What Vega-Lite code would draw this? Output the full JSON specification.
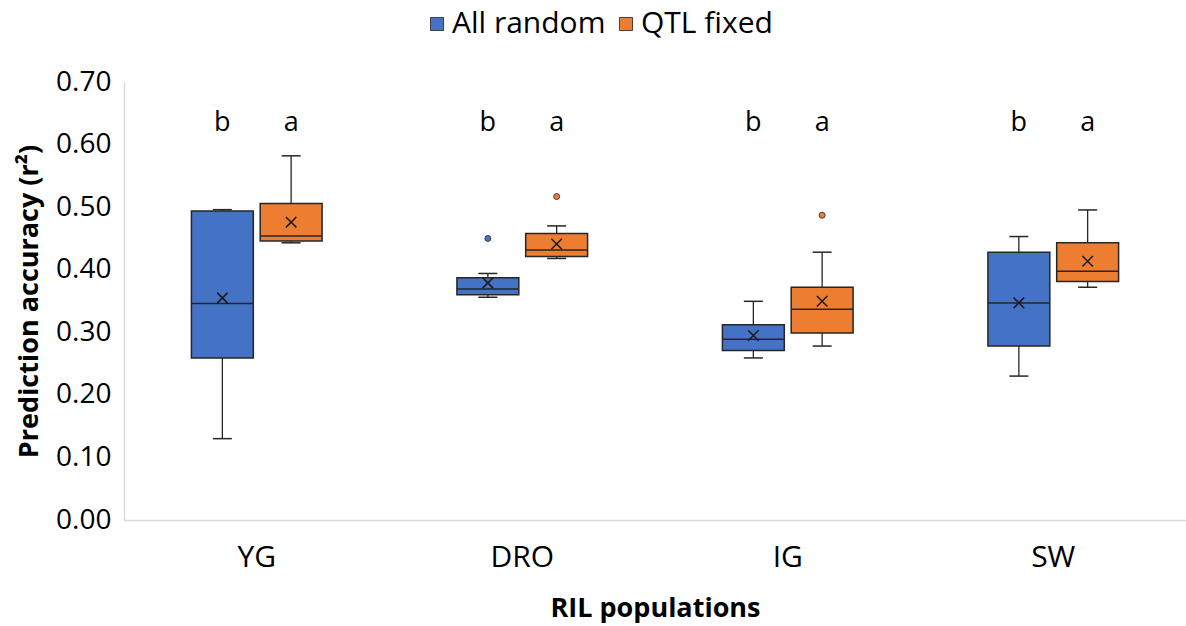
{
  "$schema": "https://vega.github.io/schema/vega-lite/v6.json",
  "autosize": {"type": "none"},
  "padding": {"left": 124, "top": 82, "right": 0, "bottom": 106},
  "width": 1062,
  "height": 438,
  "background": "white",
  "config": {
    "font": "Open Sans",
    "view": {"stroke": null}
  },
  "data": {
    "values": [
      {"pop": "YG", "series": "All random", "lo": 0.130, "q1": 0.259, "med": 0.346, "q3": 0.494, "hi": 0.496, "mean": 0.355, "outlier": null, "letter": "b"},
      {"pop": "YG", "series": "QTL fixed", "lo": 0.443, "q1": 0.446, "med": 0.454, "q3": 0.506, "hi": 0.582, "mean": 0.476, "outlier": null, "letter": "a"},
      {"pop": "DRO", "series": "All random", "lo": 0.356, "q1": 0.360, "med": 0.369, "q3": 0.387, "hi": 0.394, "mean": 0.379, "outlier": 0.450, "letter": "b"},
      {"pop": "DRO", "series": "QTL fixed", "lo": 0.418, "q1": 0.421, "med": 0.4315, "q3": 0.458, "hi": 0.470, "mean": 0.441, "outlier": 0.517, "letter": "a"},
      {"pop": "IG", "series": "All random", "lo": 0.259, "q1": 0.271, "med": 0.289, "q3": 0.312, "hi": 0.3495, "mean": 0.295, "outlier": null, "letter": "b"},
      {"pop": "IG", "series": "QTL fixed", "lo": 0.278, "q1": 0.299, "med": 0.337, "q3": 0.372, "hi": 0.428, "mean": 0.3495, "outlier": 0.487, "letter": "a"},
      {"pop": "SW", "series": "All random", "lo": 0.230, "q1": 0.278, "med": 0.347, "q3": 0.428, "hi": 0.453, "mean": 0.347, "outlier": null, "letter": "b"},
      {"pop": "SW", "series": "QTL fixed", "lo": 0.372, "q1": 0.381, "med": 0.3975, "q3": 0.443, "hi": 0.4955, "mean": 0.4135, "outlier": null, "letter": "a"}
    ]
  },
  "encoding": {
    "x": {
      "field": "pop",
      "type": "nominal",
      "sort": ["YG", "DRO", "IG", "SW"],
      "scale": {"paddingInner": 0, "paddingOuter": 0},
      "axis": {
        "title": "RIL populations",
        "titleFont": "Open Sans",
        "titleFontSize": 27,
        "titleFontWeight": "bold",
        "titleColor": "#000000",
        "titlePadding": 23,
        "labelFont": "Open Sans",
        "labelFontSize": 30,
        "labelColor": "#000000",
        "labelAngle": 0,
        "labelPadding": 22,
        "ticks": false,
        "domainColor": "#d9d9d9",
        "domainWidth": 1.5
      }
    },
    "xOffset": {
      "field": "series",
      "type": "nominal",
      "sort": ["All random", "QTL fixed"],
      "scale": {"paddingInner": 0.1, "paddingOuter": 0.98}
    }
  },
  "layer": [
    {
      "mark": {"type": "rule", "color": "#262626", "strokeWidth": 1.3},
      "encoding": {
        "y": {
          "field": "lo",
          "type": "quantitative",
          "scale": {"domain": [0, 0.7], "nice": false, "zero": true},
          "axis": {
            "title": "Prediction accuracy (r²)",
            "titleFont": "Open Sans",
            "titleFontSize": 27,
            "titleFontWeight": "bold",
            "titleColor": "#000000",
            "titlePadding": 12,
            "labelFont": "Open Sans",
            "labelFontSize": 28,
            "labelColor": "#000000",
            "labelPadding": 13,
            "values": [0, 0.1, 0.2, 0.3, 0.4, 0.5, 0.6, 0.7],
            "format": ".2f",
            "ticks": false,
            "grid": false,
            "domainColor": "#d9d9d9",
            "domainWidth": 1.5
          }
        },
        "y2": {"field": "hi"}
      }
    },
    {
      "mark": {"type": "tick", "color": "#262626", "size": 19, "thickness": 1.5, "opacity": 1},
      "encoding": {"y": {"field": "lo", "type": "quantitative"}}
    },
    {
      "mark": {"type": "tick", "color": "#262626", "size": 19, "thickness": 1.5, "opacity": 1},
      "encoding": {"y": {"field": "hi", "type": "quantitative"}}
    },
    {
      "mark": {"type": "bar", "stroke": "#262626", "strokeWidth": 1.5, "opacity": 1},
      "encoding": {
        "y": {"field": "q3", "type": "quantitative"},
        "y2": {"field": "q1"},
        "color": {
          "field": "series",
          "type": "nominal",
          "sort": ["All random", "QTL fixed"],
          "scale": {"domain": ["All random", "QTL fixed"], "range": ["#4472C4", "#ED7D31"]},
          "legend": {
            "title": null,
            "orient": "none",
            "direction": "horizontal",
            "legendX": 298,
            "legendY": -73,
            "symbolType": "square",
            "symbolSize": 170,
            "symbolStrokeColor": "#404040",
            "symbolStrokeWidth": 1,
            "labelFont": "Open Sans",
            "labelFontSize": 30,
            "labelColor": "#000000",
            "labelOffset": 0,
            "columnPadding": 5,
            "symbolOffset": 0
          }
        }
      }
    },
    {
      "mark": {"type": "tick", "color": "#262626", "size": 62, "thickness": 1.5, "opacity": 1},
      "encoding": {"y": {"field": "med", "type": "quantitative"}}
    },
    {
      "mark": {"type": "point", "shape": "M-1,-1L1,1M-1,1L1,-1", "size": 110, "stroke": "#1a1a1a", "strokeWidth": 1.5, "filled": false, "opacity": 1},
      "encoding": {"y": {"field": "mean", "type": "quantitative"}}
    },
    {
      "transform": [{"filter": "datum.outlier != null"}],
      "mark": {"type": "point", "shape": "circle", "size": 36, "filled": true, "stroke": "#404040", "strokeWidth": 1, "opacity": 1},
      "encoding": {
        "y": {"field": "outlier", "type": "quantitative"},
        "fill": {"field": "series", "type": "nominal", "scale": {"domain": ["All random", "QTL fixed"], "range": ["#4472C4", "#ED7D31"]}, "legend": null}
      }
    },
    {
      "mark": {"type": "text", "font": "Open Sans", "fontSize": 27, "color": "#000000", "baseline": "alphabetic", "align": "center"},
      "encoding": {
        "y": {"datum": 0.622, "type": "quantitative"},
        "text": {"field": "letter"}
      }
    }
  ]
}
